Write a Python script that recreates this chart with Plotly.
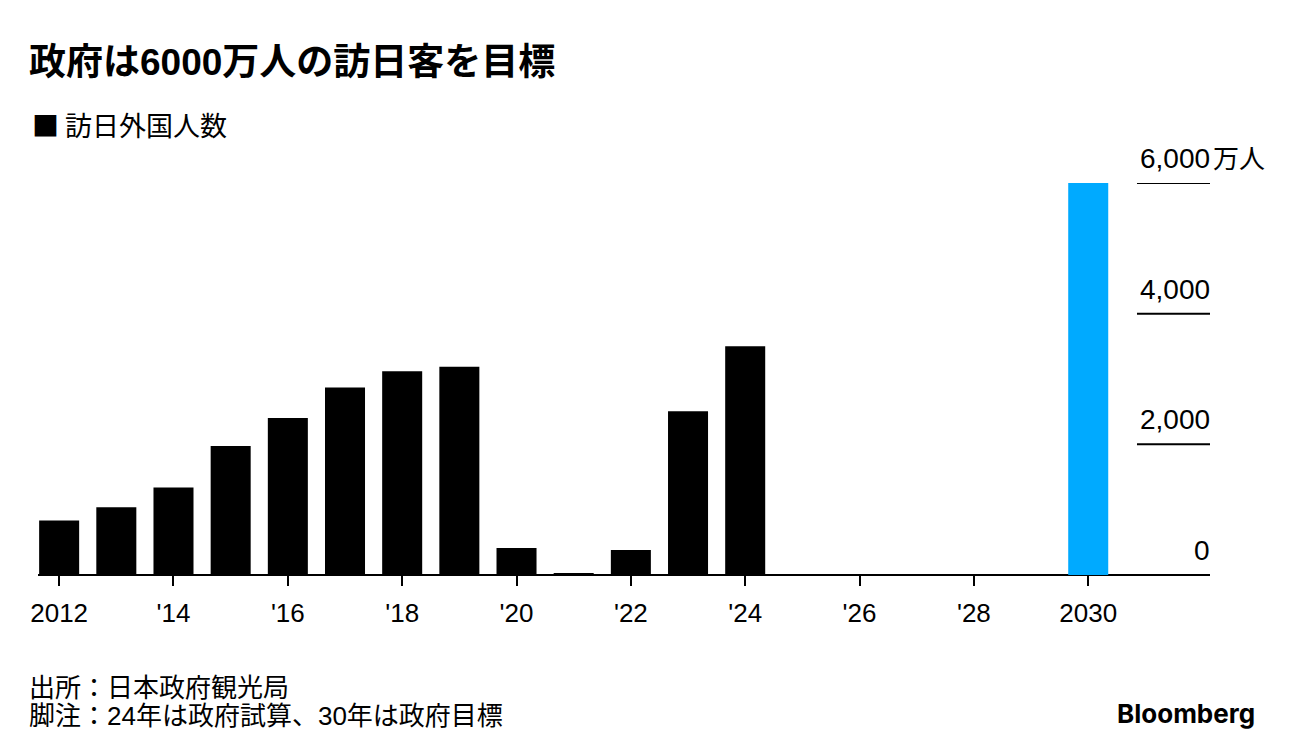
import plotly.graph_objects as go

years = list(range(2012, 2031))
visitors = [836, 1036, 1341, 1974, 2404, 2869, 3119, 3188, 412, 25, 383, 2507, 3500,
            0, 0, 0, 0, 0, 6000]
bar_colors = ["#000000"] * 18 + ["#00aaff"]
tick_years = [2012, 2014, 2016, 2018, 2020, 2022, 2024, 2026, 2028, 2030]
tick_text = ["2012", "'14", "'16", "'18", "'20", "'22", "'24", "'26", "'28", "2030"]
y_ticks = [0, 2000, 4000, 6000]
y_labels = ["0", "2,000", "4,000", "6,000"]

FONT = "Liberation Sans, Noto Sans CJK JP"
CJK = "Noto Sans CJK JP"

fig = go.Figure()
fig.add_trace(go.Bar(x=years, y=visitors, marker=dict(color=bar_colors, line=dict(width=0)),
                     width=0.7, showlegend=False, hoverinfo="x+y"))

shapes = []
annotations = []
for v, lab in zip(y_ticks, y_labels):
    if v != 0:
        shapes.append(dict(type="line", xref="paper", yref="y", x0=0.9377, x1=1.0, y0=v, y1=v,
                           line=dict(color="black", width=2)))
    annotations.append(dict(xref="paper", yref="y", x=1.0, xshift=2, y=v, text=lab, showarrow=False,
                            xanchor="right", yanchor="bottom", yshift=7,
                            font=dict(family=FONT, size=28, color="black")))
annotations.append(dict(xref="paper", yref="y", x=1.0, y=y_ticks[-1], text="万人", showarrow=False,
                        xanchor="left", yanchor="bottom", yshift=7, xshift=1,
                        font=dict(family=FONT, size=26, color="black")))
# title, legend, notes
annotations += [
    dict(xref="paper", yref="paper", x=0, xshift=-11, y=1, yshift=121, text="<b>政府は6000万人の訪日客を目標</b>",
         showarrow=False, xanchor="left", yanchor="middle", font=dict(family=FONT, size=37, color="black")),
    dict(xref="paper", yref="paper", x=0, xshift=-8, y=1, yshift=59, text="■ 訪日外国人数",
         showarrow=False, xanchor="left", yanchor="middle", font=dict(family=CJK, size=27, color="black")),
    dict(xref="paper", yref="paper", x=0, xshift=-11, y=0, yshift=-113, text="出所：日本政府観光局",
         showarrow=False, xanchor="left", yanchor="middle", font=dict(family=FONT, size=26, color="black")),
    dict(xref="paper", yref="paper", x=0, xshift=-11, y=0, yshift=-141, text="脚注：24年は政府試算、30年は政府目標",
         showarrow=False, xanchor="left", yanchor="middle", font=dict(family=FONT, size=26, color="black")),
    dict(xref="paper", yref="paper", x=1, xshift=47, y=0, yshift=-138, text="<b>Bloomberg</b>",
         showarrow=False, xanchor="right", yanchor="middle", font=dict(family="Inter", size=26, color="black")),
]

fig.update_layout(
    width=1288, height=748,
    margin=dict(l=30, r=86, t=175, b=181, pad=0),
    paper_bgcolor="white", plot_bgcolor="white",
    shapes=shapes, annotations=annotations,
    xaxis=dict(range=[2011.63, 2032.13], tickvals=tick_years, ticktext=tick_text,
               showgrid=False, zeroline=False, showline=False,
               ticks="outside", ticklen=10, tickwidth=2, tickcolor="black",
               ticklabelstandoff=5,
               tickfont=dict(family=FONT, size=26, color="black")),
    yaxis=dict(range=[0, 6000], showgrid=False, showticklabels=False, zeroline=True,
               zerolinecolor="black", zerolinewidth=2, showline=False),
)

fig.write_html("out.html")
